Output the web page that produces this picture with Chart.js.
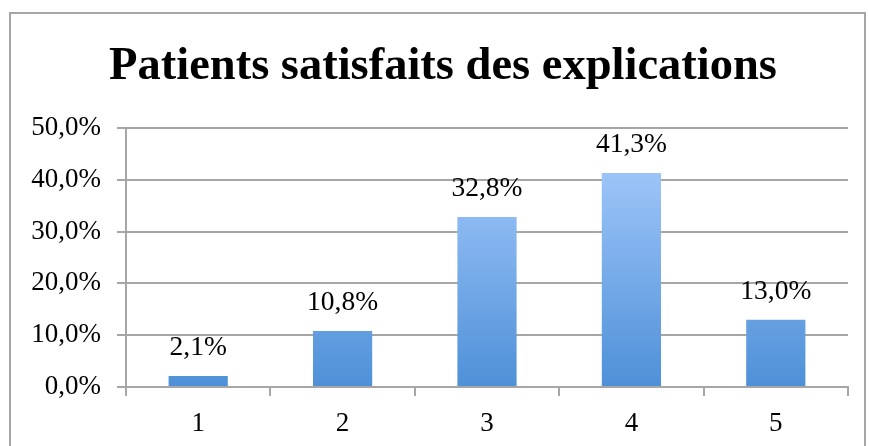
<!DOCTYPE html>
<html>
<head>
<meta charset="utf-8">
<script src="https://cdn.jsdelivr.net/npm/chart.js@4/dist/chart.umd.min.js"></script>
<style>
  html, body { margin: 0; padding: 0; background: #fff; }
  #wrap { position: relative; width: 869px; height: 446px; overflow: hidden; }
  #frame { position: absolute; left: 9px; top: 12px; width: 857px; height: 460px; border: 2px solid #a6a6a6; box-sizing: border-box; }
  canvas { position: absolute; left: 0; top: 0; }
</style>
</head>
<body>
<div id="wrap">
  <div id="frame"></div>
  <canvas id="c" width="869" height="446"></canvas>
</div>
<script>
const titleText = "Patients satisfaits des explications";
const categories = ["1", "2", "3", "4", "5"];
const values = [2.1, 10.8, 32.8, 41.3, 13.0];
const yTicks = [0, 10, 20, 30, 40, 50];

const fmt = v => v.toFixed(1).replace('.', ',') + '%';

const dataLabels = {
  id: 'dataLabels',
  afterDatasetsDraw(chart) {
    const ctx = chart.ctx;
    const meta = chart.getDatasetMeta(0);
    ctx.save();
    ctx.font = '27.5px "Liberation Serif", serif';
    ctx.fillStyle = '#000';
    ctx.textAlign = 'center';
    ctx.textBaseline = 'middle';
    meta.data.forEach((bar, i) => {
      ctx.fillText(fmt(values[i]), bar.x, bar.y - 28);
    });
    ctx.restore();
  }
};

const titleShift = {
  id: 'titleShift',
  afterLayout(chart) {
    if (chart.titleBlock) { chart.titleBlock.left += 18; }
  }
};

const barGradient = (context) => {
  const chart = context.chart;
  const area = chart.chartArea;
  if (!area) return '#7fb0ee';
  const el = context.element;
  const top = el && el.y !== undefined ? el.y : area.top;
  const bottom = el && el.base !== undefined ? el.base : area.bottom;
  if (!isFinite(top) || !isFinite(bottom) || top === bottom) return '#7fb0ee';
  const g = chart.ctx.createLinearGradient(0, top, 0, bottom);
  g.addColorStop(0, '#adcfff');
  g.addColorStop(1, '#4e90d8');
  return g;
};

new Chart(document.getElementById('c'), {
  type: 'bar',
  data: {
    labels: categories,
    datasets: [{
      data: values,
      backgroundColor: barGradient,
      borderWidth: 0,
      barPercentage: 0.41,
      categoryPercentage: 1.0
    }]
  },
  options: {
    responsive: false,
    animation: false,
    layout: { padding: { left: 20, right: 21, top: 0, bottom: 0 } },
    plugins: {
      legend: { display: false },
      tooltip: { enabled: false },
      title: {
        display: true,
        text: titleText,
        color: '#000',
        font: { family: '"Liberation Serif", serif', size: 46.5, weight: 'bold', lineHeight: 1.2 },
        padding: { top: 39, bottom: 33.2 }
      }
    },
    scales: {
      x: {
        offset: true,
        grid: { offset: true, drawOnChartArea: false, drawTicks: true, tickLength: 9, color: '#a6a6a6', lineWidth: 2 },
        border: { color: '#a6a6a6', width: 2 },
        ticks: { color: '#000', font: { family: '"Liberation Serif", serif', size: 27 }, padding: 12 },
        afterFit(scale) { scale.height = 59; }
      },
      y: {
        min: 0, max: 50,
        afterBuildTicks(scale) { scale.ticks = yTicks.map(v => ({ value: v })); },
        grid: { color: '#a6a6a6', lineWidth: 2, tickLength: 9 },
        border: { color: '#a6a6a6', width: 2 },
        ticks: { color: '#000', font: { family: '"Liberation Serif", serif', size: 27 }, padding: 16, callback: v => fmt(v) },
        afterFit(scale) { scale.width = 106; }
      }
    }
  },
  plugins: [dataLabels, titleShift]
});
</script>
</body>
</html>
